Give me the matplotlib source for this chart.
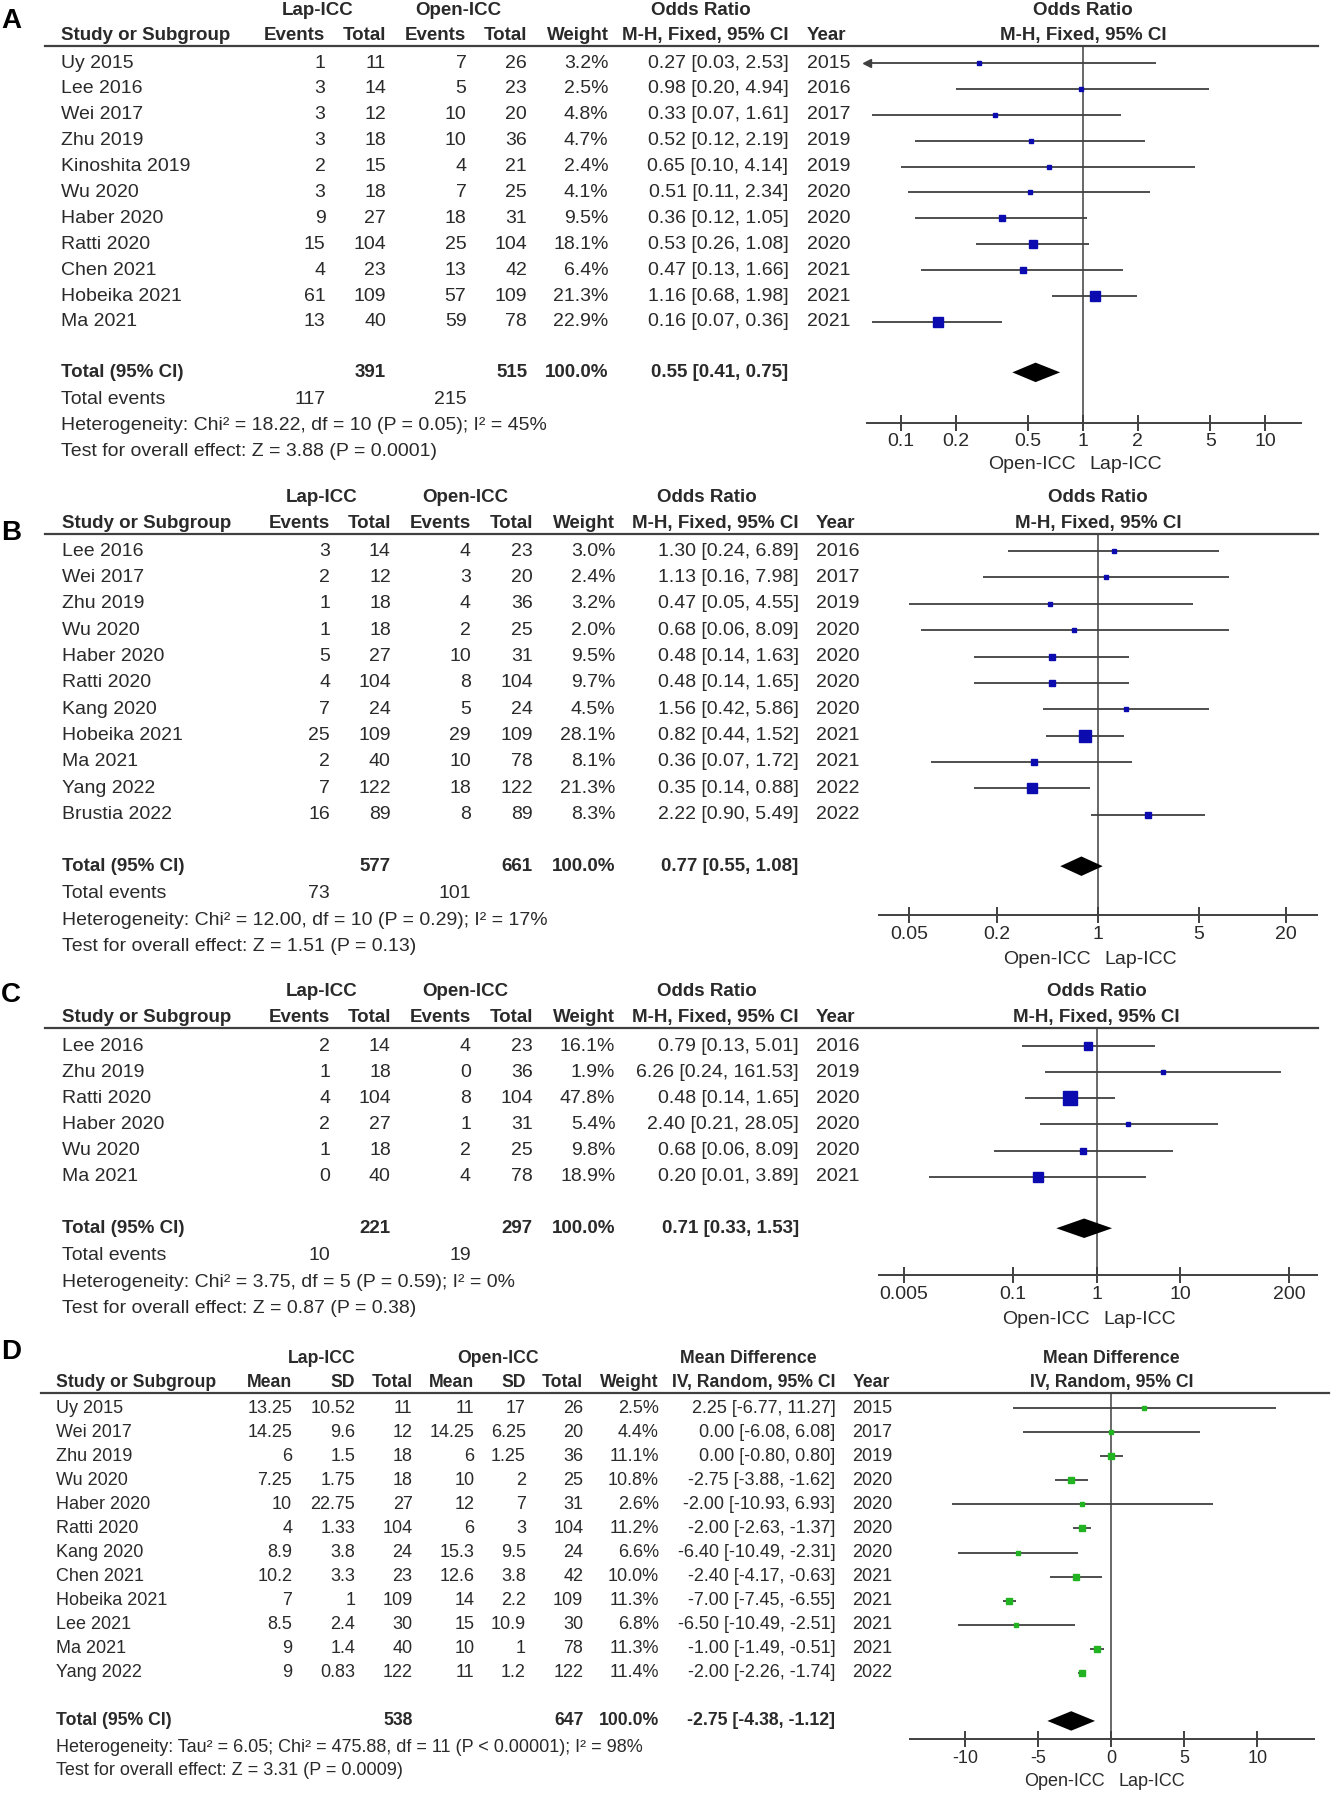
import matplotlib
matplotlib.use('Agg')
import matplotlib.pyplot as plt
import matplotlib.transforms as mtransforms
from matplotlib.ticker import NullLocator
import numpy as np

plt.rcParams['font.family'] = ['Liberation Sans', 'DejaVu Sans']
plt.rcParams['axes.unicode_minus'] = False

# ------------------------------------------------------------------ data
# Panel A
a_studies = ['Uy 2015', 'Lee 2016', 'Wei 2017', 'Zhu 2019', 'Kinoshita 2019', 'Wu 2020',
             'Haber 2020', 'Ratti 2020', 'Chen 2021', 'Hobeika 2021', 'Ma 2021']
a_lap_events = [1, 3, 3, 3, 2, 3, 9, 15, 4, 61, 13]
a_lap_total = [11, 14, 12, 18, 15, 18, 27, 104, 23, 109, 40]
a_open_events = [7, 5, 10, 10, 4, 7, 18, 25, 13, 57, 59]
a_open_total = [26, 23, 20, 36, 21, 25, 31, 104, 42, 109, 78]
a_weight = [3.2, 2.5, 4.8, 4.7, 2.4, 4.1, 9.5, 18.1, 6.4, 21.3, 22.9]
a_or = [0.27, 0.98, 0.33, 0.52, 0.65, 0.51, 0.36, 0.53, 0.47, 1.16, 0.16]
a_lo = [0.03, 0.20, 0.07, 0.12, 0.10, 0.11, 0.12, 0.26, 0.13, 0.68, 0.07]
a_hi = [2.53, 4.94, 1.61, 2.19, 4.14, 2.34, 1.05, 1.08, 1.66, 1.98, 0.36]
a_year = [2015, 2016, 2017, 2019, 2019, 2020, 2020, 2020, 2021, 2021, 2021]
a_total_n = [391, 515]
a_total_events = [117, 215]
a_pooled = [0.55, 0.41, 0.75]
a_het = 'Heterogeneity: Chi\u00b2 = 18.22, df = 10 (P = 0.05); I\u00b2 = 45%'
a_test = 'Test for overall effect: Z = 3.88 (P = 0.0001)'
a_ticks = [0.1, 0.2, 0.5, 1, 2, 5, 10]
a_ticklabels = ['0.1', '0.2', '0.5', '1', '2', '5', '10']

# Panel B
b_studies = ['Lee 2016', 'Wei 2017', 'Zhu 2019', 'Wu 2020', 'Haber 2020', 'Ratti 2020',
             'Kang 2020', 'Hobeika 2021', 'Ma 2021', 'Yang 2022', 'Brustia 2022']
b_lap_events = [3, 2, 1, 1, 5, 4, 7, 25, 2, 7, 16]
b_lap_total = [14, 12, 18, 18, 27, 104, 24, 109, 40, 122, 89]
b_open_events = [4, 3, 4, 2, 10, 8, 5, 29, 10, 18, 8]
b_open_total = [23, 20, 36, 25, 31, 104, 24, 109, 78, 122, 89]
b_weight = [3.0, 2.4, 3.2, 2.0, 9.5, 9.7, 4.5, 28.1, 8.1, 21.3, 8.3]
b_or = [1.30, 1.13, 0.47, 0.68, 0.48, 0.48, 1.56, 0.82, 0.36, 0.35, 2.22]
b_lo = [0.24, 0.16, 0.05, 0.06, 0.14, 0.14, 0.42, 0.44, 0.07, 0.14, 0.90]
b_hi = [6.89, 7.98, 4.55, 8.09, 1.63, 1.65, 5.86, 1.52, 1.72, 0.88, 5.49]
b_year = [2016, 2017, 2019, 2020, 2020, 2020, 2020, 2021, 2021, 2022, 2022]
b_total_n = [577, 661]
b_total_events = [73, 101]
b_pooled = [0.77, 0.55, 1.08]
b_het = 'Heterogeneity: Chi\u00b2 = 12.00, df = 10 (P = 0.29); I\u00b2 = 17%'
b_test = 'Test for overall effect: Z = 1.51 (P = 0.13)'
b_ticks = [0.05, 0.2, 1, 5, 20]
b_ticklabels = ['0.05', '0.2', '1', '5', '20']

# Panel C
c_studies = ['Lee 2016', 'Zhu 2019', 'Ratti 2020', 'Haber 2020', 'Wu 2020', 'Ma 2021']
c_lap_events = [2, 1, 4, 2, 1, 0]
c_lap_total = [14, 18, 104, 27, 18, 40]
c_open_events = [4, 0, 8, 1, 2, 4]
c_open_total = [23, 36, 104, 31, 25, 78]
c_weight = [16.1, 1.9, 47.8, 5.4, 9.8, 18.9]
c_or = [0.79, 6.26, 0.48, 2.40, 0.68, 0.20]
c_lo = [0.13, 0.24, 0.14, 0.21, 0.06, 0.01]
c_hi = [5.01, 161.53, 1.65, 28.05, 8.09, 3.89]
c_year = [2016, 2019, 2020, 2020, 2020, 2021]
c_total_n = [221, 297]
c_total_events = [10, 19]
c_pooled = [0.71, 0.33, 1.53]
c_het = 'Heterogeneity: Chi\u00b2 = 3.75, df = 5 (P = 0.59); I\u00b2 = 0%'
c_test = 'Test for overall effect: Z = 0.87 (P = 0.38)'
c_ticks = [0.005, 0.1, 1, 10, 200]
c_ticklabels = ['0.005', '0.1', '1', '10', '200']

# Panel D
d_studies = ['Uy 2015', 'Wei 2017', 'Zhu 2019', 'Wu 2020', 'Haber 2020', 'Ratti 2020',
             'Kang 2020', 'Chen 2021', 'Hobeika 2021', 'Lee 2021', 'Ma 2021', 'Yang 2022']
d_lap_mean = [13.25, 14.25, 6, 7.25, 10, 4, 8.9, 10.2, 7, 8.5, 9, 9]
d_lap_sd = [10.52, 9.6, 1.5, 1.75, 22.75, 1.33, 3.8, 3.3, 1, 2.4, 1.4, 0.83]
d_lap_total = [11, 12, 18, 18, 27, 104, 24, 23, 109, 30, 40, 122]
d_open_mean = [11, 14.25, 6, 10, 12, 6, 15.3, 12.6, 14, 15, 10, 11]
d_open_sd = [17, 6.25, 1.25, 2, 7, 3, 9.5, 3.8, 2.2, 10.9, 1, 1.2]
d_open_total = [26, 20, 36, 25, 31, 104, 24, 42, 109, 30, 78, 122]
d_weight = [2.5, 4.4, 11.1, 10.8, 2.6, 11.2, 6.6, 10.0, 11.3, 6.8, 11.3, 11.4]
d_md = [2.25, 0.00, 0.00, -2.75, -2.00, -2.00, -6.40, -2.40, -7.00, -6.50, -1.00, -2.00]
d_lo = [-6.77, -6.08, -0.80, -3.88, -10.93, -2.63, -10.49, -4.17, -7.45, -10.49, -1.49, -2.26]
d_hi = [11.27, 6.08, 0.80, -1.62, 6.93, -1.37, -2.31, -0.63, -6.55, -2.51, -0.51, -1.74]
d_year = [2015, 2017, 2019, 2020, 2020, 2020, 2020, 2021, 2021, 2021, 2021, 2022]
d_total_n = [538, 647]
d_pooled = [-2.75, -4.38, -1.12]
d_het = 'Heterogeneity: Tau\u00b2 = 6.05; Chi\u00b2 = 475.88, df = 11 (P < 0.00001); I\u00b2 = 98%'
d_test = 'Test for overall effect: Z = 3.31 (P = 0.0009)'
d_ticks = [-10, -5, 0, 5, 10]
d_ticklabels = ['-10', '-5', '0', '5', '10']

# ------------------------------------------------------------------ layout
W, H = 1165.0, 1571.0          # layout units (reference scaled)
SIZES = {'body': 14, 'head': 13.5}
LETTER_FS = 20
TXT = '#2a2a2a'
LINE = '#404040'
BLUE = '#0b0bb0'
GREEN = '#22b322'

fig = plt.figure(figsize=(13.35, 18.0), dpi=100)
fig.patch.set_facecolor('white')
bg = fig.add_axes([0, 0, 1, 1])
bg.set_xlim(0, W)
bg.set_ylim(H, 0)
bg.axis('off')


def txt(x, y, s, ha='left', bold=False, size=None, color=TXT):
    if size is None:
        size = SIZES['head'] if bold else SIZES['body']
    bg.text(x, y, s, ha=ha, va='center', fontsize=size, color=color,
            fontweight='bold' if bold else 'normal')


def fmt_est(v, lo, hi):
    return f'{v:.2f} [{lo:.2f}, {hi:.2f}]'


def make_forest(x0, x1, ytop, yaxis, xlim, log, ticks, labels, null):
    ax = fig.add_axes([x0 / W, 1 - yaxis / H, (x1 - x0) / W, (yaxis - ytop) / H])
    ax.patch.set_alpha(0)
    if log:
        ax.set_xscale('log')
    ax.set_xlim(*xlim)
    ax.set_ylim(yaxis, ytop)
    for s in ['top', 'left', 'right']:
        ax.spines[s].set_visible(False)
    ax.spines['bottom'].set_color(LINE)
    ax.spines['bottom'].set_linewidth(1.4)
    ax.set_yticks([])
    ax.set_xticks(ticks)
    ax.set_xticklabels(labels)
    ax.xaxis.set_minor_locator(NullLocator())
    ax.tick_params(axis='x', direction='inout', length=11, width=1.4, color=LINE,
                   labelsize=SIZES['body'], labelcolor=TXT, pad=2)
    ax.axvline(null, color=LINE, lw=1.1, zorder=1)
    return ax


def draw_rows(ax, ys, est, lo, hi, wt, color, xlim, k=1.5):
    for y, e, l, h, w in zip(ys, est, lo, hi, wt):
        l2 = max(l, xlim[0])
        h2 = min(h, xlim[1])
        ax.plot([l2, h2], [y, y], color=LINE, lw=1.3, zorder=2, solid_capstyle='butt')
        if l < xlim[0]:
            ax.plot([xlim[0]], [y], marker='<', ms=6, color=LINE, clip_on=False, zorder=3)
        if h > xlim[1]:
            ax.plot([xlim[1]], [y], marker='>', ms=6, color=LINE, clip_on=False, zorder=3)
        ms = max(3.0, k * np.sqrt(w))
        ax.plot([e], [y], marker='s', ms=ms, color=color, mec=color, zorder=4)


def draw_diamond(ax, y, e, l, h, half=8.5):
    ax.fill([l, e, h, e], [y, y - half, y, y + half], color='black', zorder=5, lw=0)


def side_labels(ax, null, y):
    tl = mtransforms.offset_copy(ax.transData, fig=fig, x=-5, y=0, units='points')
    tr = mtransforms.offset_copy(ax.transData, fig=fig, x=5, y=0, units='points')
    ax.text(null, y, 'Open-ICC', ha='right', va='center', fontsize=SIZES['body'], color=TXT, transform=tl)
    ax.text(null, y, 'Lap-ICC', ha='left', va='center', fontsize=SIZES['body'], color=TXT, transform=tr)


def right_headers(ax, null, y1, y2, s1, s2):
    ax.text(null, y1, s1, ha='center', va='center', fontsize=SIZES['head'], color=TXT, fontweight='bold')
    ax.text(null, y2, s2, ha='center', va='center', fontsize=SIZES['head'], color=TXT, fontweight='bold')


def dichotomous_panel(letter, lab_y, h1, h2, line_y, line_x0, y0, dy, study_x, cols_r, wt_r,
                      est_r, year_l, h1_pos, studies, le, lt, oe, ot, wt, est, lo, hi, years,
                      total_y, total_n, events_y, total_events, pooled, het_y, het, test_y, test,
                      fx0, fx1, axis_y, xlim, ticks, ticklabels, ol_y):
    txt(1, lab_y, letter, bold=True, size=LETTER_FS, color='black')
    # headers
    txt(h1_pos[0], h1, 'Lap-ICC', ha='center', bold=True)
    txt(h1_pos[1], h1, 'Open-ICC', ha='center', bold=True)
    txt(h1_pos[2], h1, 'Odds Ratio', ha='center', bold=True)
    txt(study_x, h2, 'Study or Subgroup', bold=True)
    for x, s in zip(cols_r, ['Events', 'Total', 'Events', 'Total']):
        txt(x, h2, s, ha='right', bold=True)
    txt(wt_r, h2, 'Weight', ha='right', bold=True)
    txt(est_r, h2, 'M-H, Fixed, 95% CI', ha='right', bold=True)
    txt(year_l, h2, 'Year', bold=True)
    bg.plot([line_x0, 1150], [line_y, line_y], color=LINE, lw=1.6)
    ys = y0 + dy * np.arange(len(studies))
    for i, y in enumerate(ys):
        txt(study_x, y, studies[i])
        for x, v in zip(cols_r, [le[i], lt[i], oe[i], ot[i]]):
            txt(x, y, str(v), ha='right')
        txt(wt_r, y, f'{wt[i]:.1f}%', ha='right')
        txt(est_r, y, fmt_est(est[i], lo[i], hi[i]), ha='right')
        txt(year_l, y, str(years[i]))
    txt(study_x, total_y, 'Total (95% CI)', bold=True)
    txt(cols_r[1], total_y, str(total_n[0]), ha='right', bold=True)
    txt(cols_r[3], total_y, str(total_n[1]), ha='right', bold=True)
    txt(wt_r, total_y, '100.0%', ha='right', bold=True)
    txt(est_r, total_y, fmt_est(*pooled), ha='right', bold=True)
    txt(study_x, events_y, 'Total events')
    txt(cols_r[0], events_y, str(total_events[0]), ha='right')
    txt(cols_r[2], events_y, str(total_events[1]), ha='right')
    txt(study_x, het_y, het)
    txt(study_x, test_y, test)
    ax = make_forest(fx0, fx1, line_y, axis_y, xlim, True, ticks, ticklabels, 1)
    draw_rows(ax, ys, est, lo, hi, wt, BLUE, xlim)
    draw_diamond(ax, total_y, pooled[0], pooled[1], pooled[2])
    right_headers(ax, 1, h1, h2, 'Odds Ratio', 'M-H, Fixed, 95% CI')
    side_labels(ax, 1, ol_y)


# Panel A
dichotomous_panel('A', 18, 9, 31, 40, 39, 55, 22.6, 53, [284, 337, 407, 460], 531, 688, 704,
                  [277, 400, 612], a_studies, a_lap_events, a_lap_total, a_open_events,
                  a_open_total, a_weight, a_or, a_lo, a_hi, a_year,
                  325, a_total_n, 349, a_total_events, a_pooled, 371, a_het, 394, a_test,
                  757, 1135, 369, (0.0657, 15.67), a_ticks, a_ticklabels, 405)

# Panel B
dichotomous_panel('B', 465, 434, 457, 466, 39, 481, 23.0, 54, [288, 341, 411, 465], 537, 697, 712,
                  [281, 406, 617], b_studies, b_lap_events, b_lap_total, b_open_events,
                  b_open_total, b_weight, b_or, b_lo, b_hi, b_year,
                  756, b_total_n, 780, b_total_events, b_pooled, 803, b_het, 826, b_test,
                  767, 1149, 799, (0.0308, 32.4), b_ticks, b_ticklabels, 837)

# Panel C
dichotomous_panel('C', 868, 865, 888, 897, 39, 913, 22.8, 54, [288, 341, 411, 465], 537, 697, 712,
                  [281, 406, 617], c_studies, c_lap_events, c_lap_total, c_open_events,
                  c_open_total, c_weight, c_or, c_lo, c_hi, c_year,
                  1072, c_total_n, 1096, c_total_events, c_pooled, 1119, c_het, 1142, c_test,
                  767, 1149, 1113, (0.0025, 427.0), c_ticks, c_ticklabels, 1152)

# Panel D (continuous) - slightly smaller type in the reference
txt(1, 1180, 'D', bold=True, size=LETTER_FS, color='black')
SIZES['body'] = 13
SIZES['head'] = 12.7
dh1, dh2, dline = 1186, 1207, 1216
d_cols = [255, 310, 360, 414, 459, 509]
d_wt_r, d_est_r, d_year_l, d_study_x = 575, 729, 744, 49
txt(281, dh1, 'Lap-ICC', ha='center', bold=True)
txt(435, dh1, 'Open-ICC', ha='center', bold=True)
txt(653, dh1, 'Mean Difference', ha='center', bold=True)
txt(d_study_x, dh2, 'Study or Subgroup', bold=True)
for x, s in zip(d_cols, ['Mean', 'SD', 'Total', 'Mean', 'SD', 'Total']):
    txt(x, dh2, s, ha='right', bold=True)
txt(d_wt_r, dh2, 'Weight', ha='right', bold=True)
txt(d_est_r, dh2, 'IV, Random, 95% CI', ha='right', bold=True)
txt(d_year_l, dh2, 'Year', bold=True)
bg.plot([36, 1160], [dline, dline], color=LINE, lw=1.6)
d_ys = 1229 + 21.0 * np.arange(len(d_studies))
for i, y in enumerate(d_ys):
    txt(d_study_x, y, d_studies[i])
    vals = [d_lap_mean[i], d_lap_sd[i], d_lap_total[i], d_open_mean[i], d_open_sd[i], d_open_total[i]]
    for x, v in zip(d_cols, vals):
        txt(x, y, f'{v:g}', ha='right')
    txt(d_wt_r, y, f'{d_weight[i]:.1f}%', ha='right')
    txt(d_est_r, y, fmt_est(d_md[i], d_lo[i], d_hi[i]), ha='right')
    txt(d_year_l, y, str(d_year[i]))
d_total_y = 1502
txt(d_study_x, d_total_y, 'Total (95% CI)', bold=True)
txt(d_cols[2], d_total_y, str(d_total_n[0]), ha='right', bold=True)
txt(d_cols[5], d_total_y, str(d_total_n[1]), ha='right', bold=True)
txt(d_wt_r, d_total_y, '100.0%', ha='right', bold=True)
txt(d_est_r, d_total_y, fmt_est(*d_pooled), ha='right', bold=True)
txt(d_study_x, 1525, d_het)
txt(d_study_x, 1545, d_test)
d_xlim = (-13.8, 13.9)
axd = make_forest(794, 1147, dline, 1518, d_xlim, False, d_ticks, d_ticklabels, 0)
draw_rows(axd, d_ys, d_md, d_lo, d_hi, d_weight, GREEN, d_xlim, k=1.2)
draw_diamond(axd, d_total_y, d_pooled[0], d_pooled[1], d_pooled[2])
right_headers(axd, 0, dh1, dh2, 'Mean Difference', 'IV, Random, 95% CI')
side_labels(axd, 0, 1555)

fig.savefig('out.png', dpi=100, facecolor='white')
